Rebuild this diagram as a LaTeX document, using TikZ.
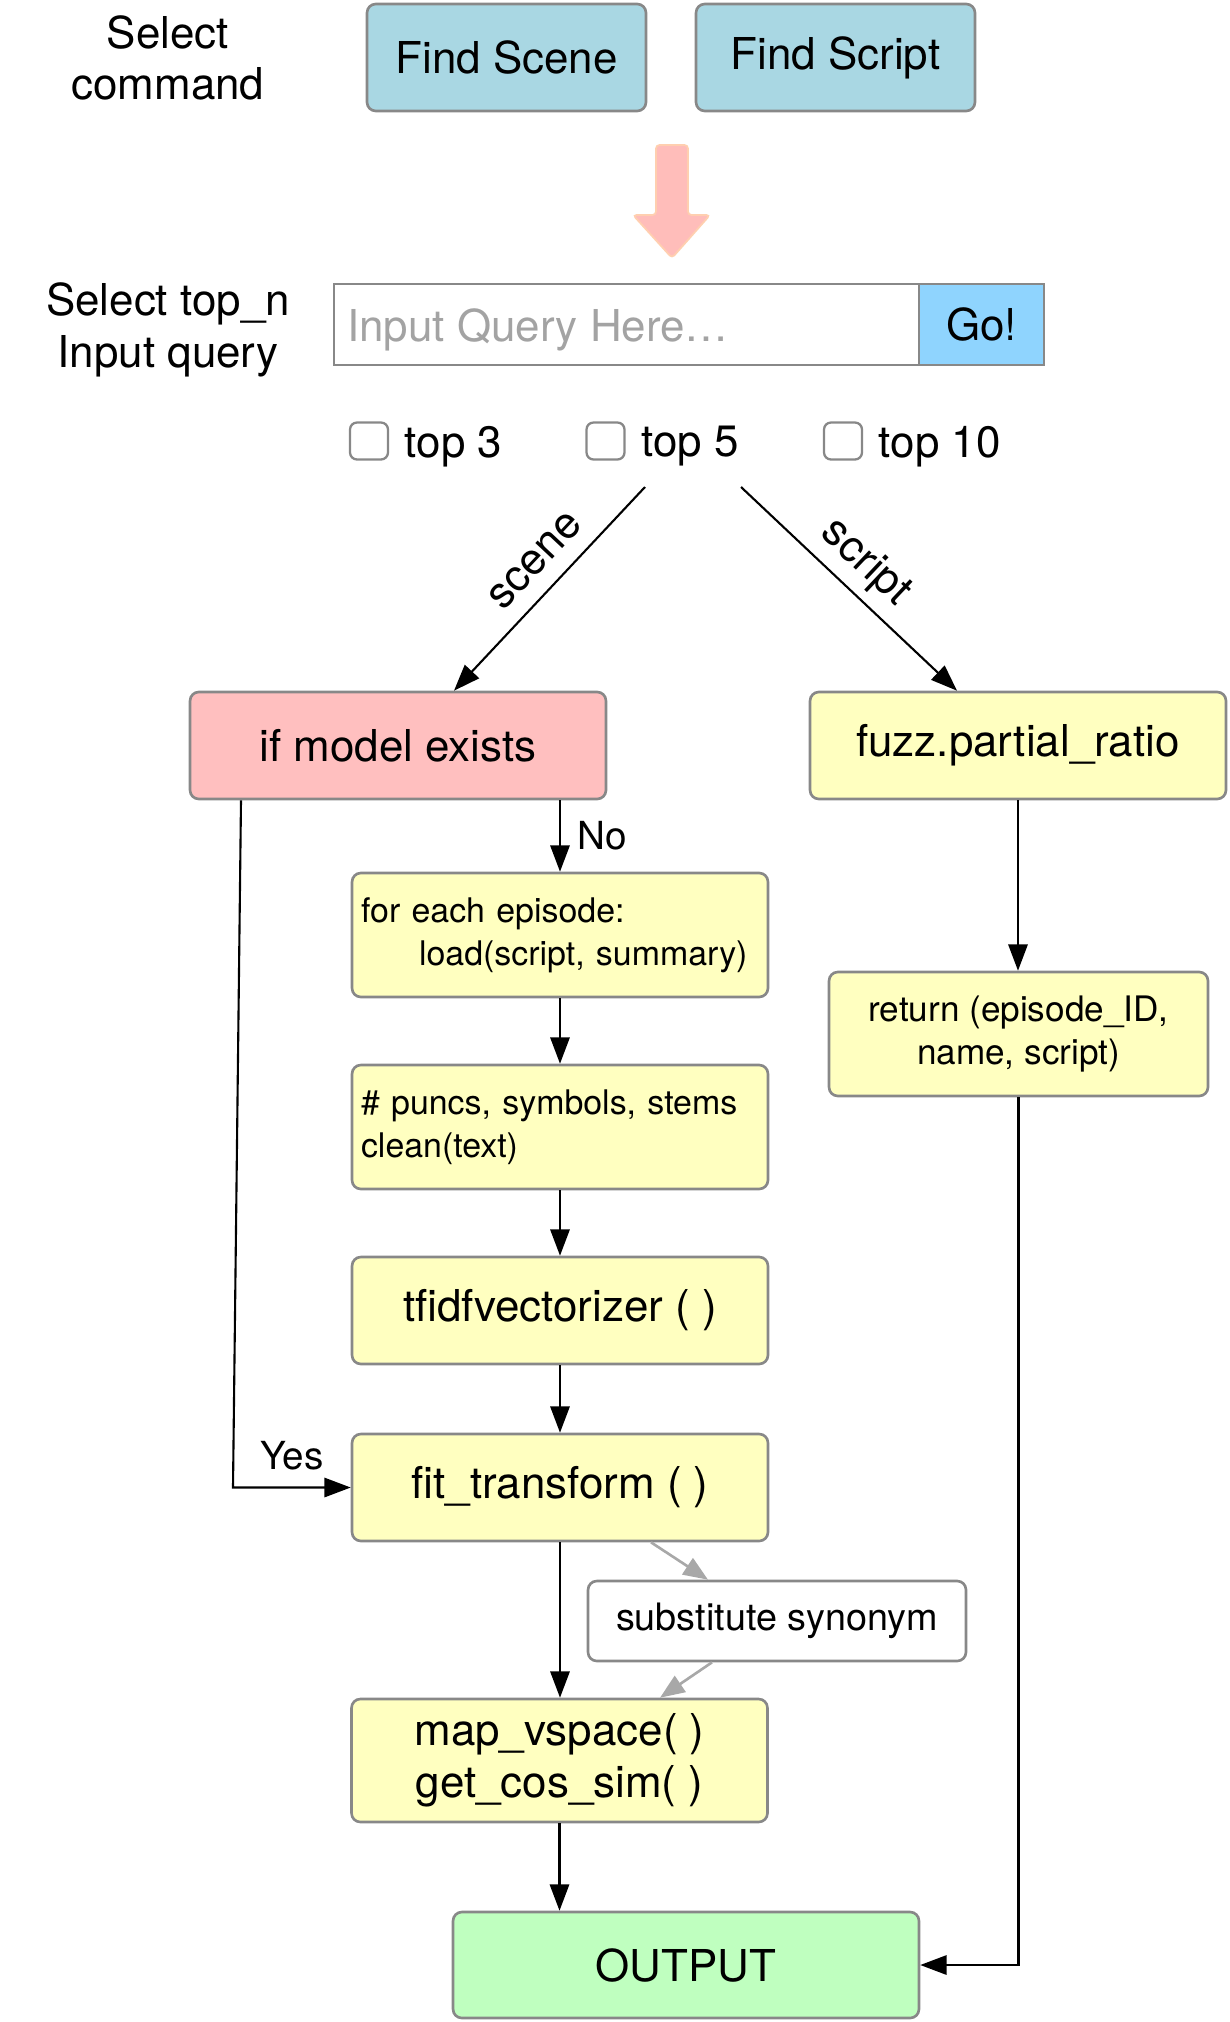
\documentclass[tikz,border=0pt]{standalone}
\usepackage{fontspec}
\setmainfont{TeX Gyre Heros}
\usetikzlibrary{positioning, arrows.meta, calc}

\definecolor{btnblue}{HTML}{A9D7E3}
\definecolor{goblue}{HTML}{8FD4FE}
\definecolor{modelpink}{HTML}{FFBFBF}
\definecolor{stepyellow}{HTML}{FFFFC0}
\definecolor{outgreen}{HTML}{BFFFBF}
\definecolor{boxgray}{HTML}{888888}
\definecolor{hintgray}{HTML}{A3A3A3}
\definecolor{asidegray}{HTML}{A8A8A8}
\definecolor{arrowpink}{HTML}{FFBDBA}
\definecolor{arroworange}{HTML}{FFCFB0}

\tikzset{
  bigfont/.style={font=\fontsize{25}{29.5}\selectfont},
  smallfont/.style={font=\fontsize{20}{24.5}\selectfont},
  codefont/.style={font=\fontsize{19.3}{24.5}\selectfont},
  btn/.style={draw=boxgray, line width=1.5pt, rounded corners=5pt, fill=btnblue,
    minimum width=5.58cm, minimum height=2.14cm, bigfont},
  stepbox/.style={draw=boxgray, line width=1.5pt, rounded corners=5pt, fill=stepyellow,
    minimum width=8.32cm, minimum height=2.14cm, bigfont, align=center},
  codebox/.style={stepbox, codefont, minimum height=2.48cm, text width=7.96cm,
    inner xsep=0.18cm, align=left},
  chk/.style={draw=boxgray, line width=1.3pt, rounded corners=4pt,
    minimum width=0.76cm, minimum height=0.74cm, inner sep=0pt},
  opt/.style={bigfont, inner sep=0pt},
  flow/.style={-{Triangle[length=15pt, width=11pt]}, line width=1.2pt},
  aside/.style={-{Triangle[length=14pt, width=11pt]}, line width=1.5pt, draw=asidegray},
  lbl/.style={font=\fontsize{22}{26}\selectfont},
  branch/.style={font=\fontsize{25}{29}\selectfont, sloped}
}

\begin{document}
\begin{tikzpicture}[x=0.02cm, y=-0.02cm]
        \useasboundingbox (0,0) rectangle (1230,2022);

        % Command buttons
        \node[bigfont, align=center] (selcmd) at (168,58) {Select\\command};
        \node[btn] (findscene) at (506.5,57.5) {Find Scene};
        \node[btn] (findscript) at (835.5,57.5) {Find Script};

        % Big pink arrow
        \draw[fill=arrowpink, draw=arroworange, line width=1pt, rounded corners=2pt]
            (656,145) -- (688,145) -- (688,215) -- (710,215) -- (672,258)
            -- (633,215) -- (656,215) -- cycle;

        % Query bar
        \node[bigfont, align=center] (seltop) at (168,330) {Select top\_n\\Input query};
        \node[draw=boxgray, line width=1.5pt, fill=white, minimum width=11.7cm,
            minimum height=1.62cm] (query) at (626.5,324.5) {};
        \node[bigfont, text=hintgray, anchor=west, inner sep=0pt] (hint)
            at ($(query.west)+(14,5)$) {Input Query Here…};
        \node[draw=boxgray, line width=1.5pt, fill=goblue, minimum width=2.5cm,
            minimum height=1.62cm, bigfont] (go) at (981.5,324.5) {Go!};

        % Checkboxes
        \node[chk] (cb3) at (369,441) {};
        \node[opt, right=0.31cm of cb3, yshift=-3pt] (top3) {top 3};
        \node[chk] (cb5) at (605.5,441) {};
        \node[opt, right=0.31cm of cb5, yshift=-3pt] (top5) {top 5};
        \node[chk] (cb10) at (843,441) {};
        \node[opt, right=0.31cm of cb10, yshift=-3pt] (top10) {top 10};

        % Branches
        \coordinate (scenefrom) at (645,487);
        \coordinate (scriptfrom) at (741,487);
        \node[stepbox, fill=modelpink] (ifmodel) at (398,745.5) {if model exists};
        \node[stepbox] (fuzz) at (1018,745.5) {fuzz.partial\_ratio};

        \draw[flow] (scenefrom) -- node[branch, pos=0.46, above=6pt] {scene}
            ($(ifmodel.north)+(56,0)$);
        \draw[flow] (scriptfrom) -- node[branch, pos=0.48, above=1.5pt] {script}
            ($(fuzz.north)+(-61,0)$);

        % Scene pipeline
        \node[codebox] (episode) at (560,935) {for each episode:\\\hspace*{1.16cm}\mbox{load(script, summary)}};
        \node[codebox] (clean) at (560,1127) {\# puncs, symbols, stems\\clean(text)};
        \node[stepbox] (tfidf) at (560,1310.5) {tfidfvectorizer ( )};
        \node[stepbox] (fit) at (560,1487.5) {fit\_transform ( )};
        \node[stepbox, fill=white, minimum width=7.56cm, minimum height=1.6cm,
            font=\fontsize{21.5}{26}\selectfont] (synonym) at (777,1621) {substitute synonym};
        \node[stepbox, minimum height=2.46cm] (mapv) at (559.5,1760.5) {map\_vspace( )\\get\_cos\_sim( )};
        \node[stepbox, fill=outgreen, minimum width=9.32cm, minimum height=2.12cm] (output)
            at (686,1965) {OUTPUT};

        % Script pipeline
        \node[stepbox, smallfont, minimum width=7.58cm, minimum height=2.48cm] (ret)
            at (1018.5,1034) {return (episode\_ID,\\name, script)};

        % Connectors
        \draw[flow] (ifmodel.south -| episode.north) -- node[right, lbl, xshift=6pt] {No} (episode.north);
        \draw[flow] (episode) -- (clean);
        \draw[flow] (clean) -- (tfidf);
        \draw[flow] (tfidf) -- (fit);
        \draw[flow] (fit.south) -- (fit.south |- mapv.north);
        \draw[flow] (mapv.south) -- (mapv.south |- output.north);

        \coordinate (yesturn) at (233,1487.5);
        \draw[flow] ($(ifmodel.south)+(-157,0)$) -- (yesturn) -- node[above=6pt, lbl] {Yes} (fit.west);

        \draw[flow] (fuzz.south) -- (fuzz.south |- ret.north);
        \draw[flow] (ret.south) |- (output.east);

        % Synonym side step
        \draw[aside] ($(fit.south)+(91,0)$) -- ($(synonym.north)+(-69,0)$);
        \draw[aside] ($(synonym.south)+(-65,0)$) -- ($(mapv.north)+(100.5,0)$);

    \end{tikzpicture}
\end{document}
